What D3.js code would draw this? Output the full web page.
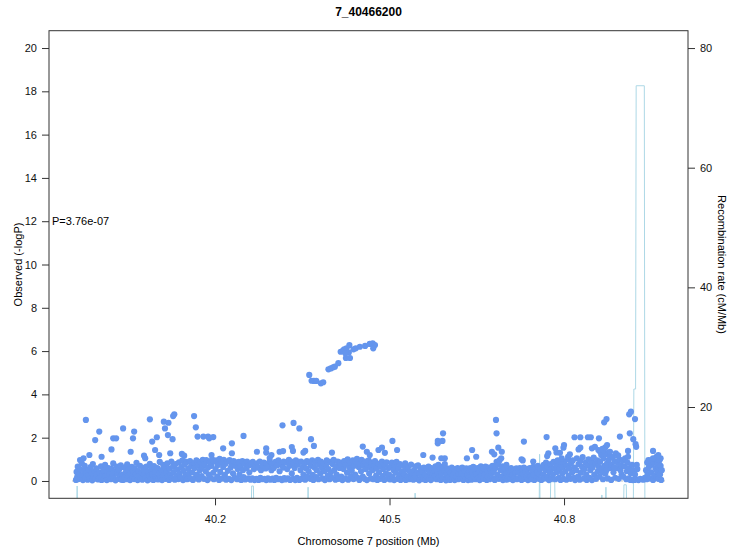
<!DOCTYPE html>
<html>
<head>
<meta charset="utf-8">
<script src="https://cdn.jsdelivr.net/npm/d3@7"></script>
<style>
  body { margin: 0; background: #fff; }
  svg { font-family: "Liberation Sans", Arial, sans-serif; }
</style>
</head>
<body>
<svg width="731" height="552"></svg>
<script>
// Chart text
const title = '7_40466200';
const pLabel = 'P=3.76e-07';

// Tick values
const xTicks = [40.2, 40.5, 40.8];
const yTicks = [0, 2, 4, 6, 8, 10, 12, 14, 16, 18, 20];
const recombTicks = [20, 40, 60, 80];

// SNPs as [position (Mb), -log10 P]
const bandLeft = [
  [39.961,0.05],[39.962,0.42],[39.963,0.18],[39.964,0.66],[39.965,0.09],[39.967,0.31],[39.968,0.55],[39.969,0.12],[39.971,0.82],[39.972,0.24],[39.973,0.04],[39.975,0.47],[39.976,0.7],[39.977,0.14],[39.979,0.36],
  [39.981,0.06],[39.982,0.52],[39.983,0.27],[39.985,0.1],[39.986,0.64],[39.987,0.38],[39.989,0.03],[39.990,0.78],[39.991,0.2],[39.993,0.45],[39.994,0.11],[39.996,0.58],[39.997,0.3],[39.999,0.07],
  [40.001,0.4],[40.002,0.13],[40.004,0.68],[40.005,0.05],[40.006,0.29],[40.008,0.5],[40.009,0.09],[40.011,0.74],[40.012,0.22],[40.014,0.04],[40.015,0.43],[40.017,0.6],[40.018,0.16],[40.019,0.33],
  [40.021,0.08],[40.022,0.56],[40.024,0.26],[40.025,0.81],[40.026,0.12],[40.028,0.44],[40.029,0.03],[40.031,0.67],[40.032,0.35],[40.034,0.1],[40.035,0.52],[40.037,0.2],[40.038,0.72],[40.039,0.06],
  [40.041,0.3],[40.042,0.05],[40.044,0.62],[40.045,0.18],[40.047,0.41],[40.048,0.08],[40.049,0.77],[40.051,0.25],[40.052,0.53],[40.054,0.04],[40.055,0.36],[40.057,0.65],[40.058,0.14],[40.059,0.47],
  [40.061,0.09],[40.062,0.58],[40.064,0.33],[40.065,0.84],[40.067,0.04],[40.068,0.46],[40.069,0.21],[40.071,0.7],[40.072,0.11],[40.074,0.39],[40.075,0.06],[40.077,0.61],[40.078,0.27],[40.079,0.5],
  [40.081,0.13],[40.082,0.66],[40.084,0.03],[40.085,0.42],[40.087,0.24],[40.088,0.79],[40.089,0.08],[40.091,0.55],[40.092,0.31],[40.094,0.05],[40.095,0.69],[40.097,0.19],[40.098,0.45],[40.099,0.1],
  [40.101,0.6],[40.102,0.07],[40.104,0.35],[40.105,0.88],[40.107,0.15],[40.108,0.5],[40.109,0.04],[40.111,0.74],[40.112,0.28],[40.114,0.62],[40.115,0.1],[40.117,0.43],[40.118,0.82],[40.119,0.2],
  [40.121,0.05],[40.122,0.57],[40.124,0.3],[40.125,0.9],[40.126,0.12],[40.128,0.68],[40.129,0.41],[40.131,0.06],[40.132,0.78],[40.134,0.22],[40.135,0.53],[40.137,0.09],[40.138,0.86],[40.139,0.36],
  [40.141,0.14],[40.142,0.64],[40.144,0.95],[40.145,0.04],[40.146,0.47],[40.148,0.75],[40.149,0.25],[40.151,0.88],[40.152,0.08],[40.154,0.56],[40.155,0.33],[40.157,0.92],[40.158,0.11],[40.159,0.7],
  [40.161,0.4],[40.162,0.05],[40.164,0.83],[40.165,0.6],[40.167,0.18],[40.168,0.95],[40.169,0.3],[40.171,0.72],[40.172,0.07],[40.174,0.5],[40.175,0.88],[40.177,0.22],[40.178,0.65],[40.179,0.98],
  [40.181,0.1],[40.182,0.78],[40.184,0.45],[40.185,0.97],[40.187,0.04],[40.188,0.62],[40.189,0.3],[40.191,0.85],[40.192,0.15],[40.194,0.7],[40.195,1.0],[40.197,0.38],[40.198,0.08],[40.199,0.9],
  [40.201,0.55],[40.202,0.95],[40.204,0.2],[40.205,0.74],[40.207,0.05],[40.208,1.02],[40.209,0.42],[40.211,0.86],[40.212,0.12],[40.214,0.65],[40.215,0.98],[40.217,0.28],[40.218,0.8],[40.219,0.06],
  [40.221,0.9],[40.222,0.47],[40.224,0.1],[40.225,0.96],[40.227,0.62],[40.228,0.04],[40.229,0.78],[40.231,0.35],[40.232,0.92],[40.234,0.15],[40.235,0.7],[40.237,0.85],[40.238,0.08],[40.239,0.55],
  [40.241,0.88],[40.242,0.3],[40.244,0.66],[40.245,0.05],[40.247,0.92],[40.248,0.5],[40.249,0.18],[40.251,0.8],[40.252,0.07],[40.254,0.6],[40.255,0.9],[40.257,0.12],[40.258,0.72],[40.259,0.4],
  [40.261,0.06],[40.262,0.75],[40.264,0.12],[40.265,0.88],[40.267,0.55],[40.268,0.04],[40.269,0.68],[40.271,0.1],[40.272,0.82],[40.274,0.62],[40.275,0.05],[40.277,0.9],[40.278,0.14],[40.279,0.5],
  [40.281,0.08],[40.282,0.7],[40.284,0.85],[40.285,0.1],[40.287,0.58],[40.288,0.04],[40.289,0.78],[40.291,0.12],[40.292,0.65],[40.294,0.92],[40.295,0.06],[40.297,0.5],[40.298,0.8],[40.299,0.11]
];

const bandMiddle = [
  [40.301,0.6],[40.302,0.05],[40.304,0.88],[40.305,0.15],[40.307,0.72],[40.308,0.08],[40.309,0.95],[40.311,0.45],[40.312,0.1],[40.314,0.78],[40.315,0.04],[40.317,0.62],[40.318,0.9],[40.319,0.13],
  [40.321,0.07],[40.322,0.85],[40.324,0.55],[40.325,0.12],[40.327,0.98],[40.328,0.7],[40.329,0.05],[40.331,0.9],[40.332,0.35],[40.334,0.1],[40.335,0.8],[40.337,0.6],[40.338,0.04],[40.339,0.95],
  [40.341,0.14],[40.342,0.75],[40.344,0.88],[40.345,0.05],[40.347,0.5],[40.348,0.9],[40.349,0.1],[40.351,0.65],[40.352,0.3],[40.354,0.82],[40.355,0.06],[40.357,0.58],[40.358,0.92],[40.359,0.2],
  [40.361,0.45],[40.362,0.85],[40.364,0.1],[40.365,0.7],[40.367,0.95],[40.368,0.28],[40.369,0.05],[40.371,0.62],[40.372,0.88],[40.374,0.18],[40.375,0.5],[40.377,0.98],[40.378,0.08],[40.379,0.75],
  [40.381,0.35],[40.382,0.9],[40.384,0.6],[40.385,0.12],[40.387,0.82],[40.388,0.45],[40.389,0.04],[40.391,0.7],[40.392,0.95],[40.394,0.25],[40.395,0.55],[40.397,0.08],[40.398,0.88],[40.399,0.4],
  [40.401,0.15],[40.402,0.78],[40.404,0.98],[40.405,0.5],[40.407,0.06],[40.408,0.68],[40.409,0.3],[40.411,0.9],[40.412,0.1],[40.414,0.6],[40.415,0.85],[40.417,0.2],[40.418,0.72],[40.419,0.04],
  [40.421,0.55],[40.422,0.92],[40.424,0.12],[40.425,0.75],[40.427,0.38],[40.428,1.0],[40.429,0.06],[40.431,0.62],[40.432,0.85],[40.434,0.22],[40.435,0.48],[40.437,0.95],[40.438,0.09],[40.439,0.7],
  [40.441,0.3],[40.442,0.88],[40.444,1.02],[40.445,0.15],[40.447,0.65],[40.448,0.05],[40.449,0.8],[40.451,0.45],[40.452,0.98],[40.454,0.2],[40.455,0.7],[40.457,0.1],[40.458,0.9],[40.459,0.55],
  [40.461,0.04],[40.462,0.75],[40.464,0.95],[40.465,0.35],[40.467,0.62],[40.468,0.12],[40.469,0.85],[40.471,0.5],[40.472,0.08],[40.474,0.7],[40.475,0.92],[40.477,0.25],[40.478,0.58],[40.479,0.05],
  [40.481,0.8],[40.482,0.4],[40.484,0.1],[40.485,0.68],[40.487,0.9],[40.488,0.22],[40.489,0.55],[40.491,0.05],[40.492,0.75],[40.494,0.35],[40.495,0.86],[40.497,0.12],[40.498,0.6],[40.499,0.3],
  [40.501,0.07],[40.502,0.65],[40.504,0.85],[40.505,0.2],[40.507,0.5],[40.508,0.04],[40.509,0.72],[40.511,0.38],[40.512,0.88],[40.514,0.1],[40.515,0.58],[40.517,0.27],[40.518,0.78],[40.519,0.05],
  [40.521,0.45],[40.522,0.12],[40.524,0.7],[40.525,0.32],[40.527,0.82],[40.528,0.05],[40.529,0.55],[40.531,0.2],[40.532,0.65],[40.534,0.08],[40.535,0.42],[40.537,0.76],[40.538,0.15],[40.539,0.35],
  [40.541,0.06],[40.542,0.5],[40.544,0.25],[40.545,0.68],[40.547,0.1],[40.548,0.4],[40.549,0.72],[40.551,0.03],[40.552,0.33],[40.554,0.58],[40.555,0.15],[40.557,0.45],[40.558,0.08],[40.559,0.62],
  [40.561,0.28],[40.562,0.05],[40.564,0.55],[40.565,0.18],[40.567,0.66],[40.568,0.1],[40.569,0.4],[40.571,0.04],[40.572,0.6],[40.574,0.3],[40.575,0.12],[40.577,0.5],[40.578,0.22],[40.579,0.68],
  [40.581,0.08],[40.582,0.45],[40.584,0.75],[40.585,0.2],[40.587,0.55],[40.588,0.05],[40.589,0.35],[40.591,0.65],[40.592,0.12],[40.594,0.48],[40.595,0.78],[40.597,0.03],[40.598,0.3],[40.599,0.58],
  [40.601,0.15],[40.602,0.5],[40.604,0.05],[40.605,0.38],[40.607,0.62],[40.608,0.1],[40.609,0.28],[40.611,0.55],[40.612,0.04],[40.614,0.42],[40.615,0.2],[40.617,0.6],[40.618,0.08],[40.619,0.33],
  [40.621,0.52],[40.622,0.12],[40.624,0.35],[40.625,0.62],[40.627,0.05],[40.628,0.25],[40.629,0.48],[40.631,0.1],[40.632,0.58],[40.634,0.3],[40.635,0.04],[40.637,0.45],[40.638,0.18],[40.639,0.6]
];

const bandRight = [
  [40.641,0.06],[40.642,0.4],[40.644,0.65],[40.645,0.2],[40.647,0.52],[40.648,0.08],[40.649,0.32],[40.651,0.6],[40.652,0.13],[40.654,0.45],[40.655,0.04],[40.657,0.68],[40.658,0.27],[40.659,0.5],
  [40.661,0.1],[40.662,0.55],[40.664,0.3],[40.665,0.66],[40.667,0.05],[40.668,0.42],[40.669,0.2],[40.671,0.62],[40.672,0.08],[40.674,0.5],[40.675,0.35],[40.677,0.7],[40.678,0.12],[40.679,0.45],
  [40.681,0.05],[40.682,0.6],[40.684,0.88],[40.685,0.3],[40.687,0.75],[40.688,0.1],[40.689,0.95],[40.691,0.5],[40.692,0.2],[40.694,0.68],[40.695,0.04],[40.697,0.42],[40.698,0.58],[40.699,0.15],
  [40.701,0.35],[40.702,0.06],[40.704,0.55],[40.705,0.2],[40.707,0.45],[40.708,0.1],[40.709,0.6],[40.711,0.28],[40.712,0.04],[40.714,0.5],[40.715,0.15],[40.717,0.38],[40.718,0.58],[40.719,0.08],
  [40.721,0.42],[40.722,0.12],[40.724,0.6],[40.725,0.25],[40.727,0.05],[40.728,0.5],[40.729,0.32],[40.731,0.62],[40.732,0.1],[40.734,0.45],[40.735,0.18],[40.737,0.55],[40.738,0.04],[40.739,0.3],
  [40.741,0.6],[40.742,0.2],[40.744,0.08],[40.745,0.48],[40.747,0.65],[40.748,0.3],[40.749,0.05],[40.751,0.55],[40.752,0.15],[40.754,0.4],[40.755,0.7],[40.757,0.1],[40.758,0.35],[40.759,0.58],
  [40.761,0.05],[40.762,0.62],[40.764,0.3],[40.765,0.75],[40.767,0.12],[40.768,0.5],[40.769,0.85],[40.771,0.2],[40.772,0.65],[40.774,0.04],[40.775,0.4],[40.777,0.78],[40.778,0.1],[40.779,0.55],
  [40.781,0.3],[40.782,0.88],[40.784,0.6],[40.785,0.08],[40.787,0.72],[40.788,0.42],[40.789,0.95],[40.791,0.15],[40.792,0.55],[40.794,0.05],[40.795,0.8],[40.797,0.35],[40.798,0.65],[40.799,0.1],
  [40.801,0.9],[40.802,0.45],[40.804,0.06],[40.805,0.7],[40.807,1.0],[40.808,0.25],[40.809,0.58],[40.811,0.1],[40.812,0.82],[40.814,0.4],[40.815,0.95],[40.817,0.15],[40.818,0.62],[40.819,0.04],
  [40.821,0.5],[40.822,1.05],[40.824,0.2],[40.825,0.78],[40.827,0.06],[40.828,0.92],[40.829,0.38],[40.831,0.65],[40.832,1.1],[40.834,0.12],[40.835,0.55],[40.837,0.85],[40.838,0.3],[40.839,0.05],
  [40.841,0.72],[40.842,1.0],[40.844,0.15],[40.845,0.5],[40.847,0.88],[40.848,0.04],[40.849,0.62],[40.851,1.08],[40.852,0.3],[40.854,0.8],[40.855,0.1],[40.857,0.95],[40.858,0.45],[40.859,0.68],
  [40.861,0.2],[40.862,0.9],[40.864,1.2],[40.865,0.55],[40.867,0.08],[40.868,1.05],[40.869,0.7],[40.871,0.35],[40.872,1.25],[40.874,0.82],[40.875,0.12],[40.877,0.98],[40.878,0.6],[40.879,1.15],[40.866,0.4],[40.873,0.5],
  [40.881,0.05],[40.882,0.75],[40.884,1.1],[40.885,0.4],[40.887,0.9],[40.888,0.15],[40.889,1.28],[40.891,0.6],[40.892,0.85],[40.894,0.1],[40.895,1.0],[40.897,0.5],[40.898,0.72],[40.899,0.3],[40.886,0.62],[40.893,1.18],
  [40.901,0.95],[40.902,0.2],[40.904,0.68],[40.905,1.05],[40.907,0.08],[40.908,0.45],[40.909,0.85],[40.911,0.12],[40.912,0.6],[40.914,0.05],[40.915,0.35],[40.917,0.75],[40.918,0.04],[40.919,0.5],
  [40.921,0.05],[40.922,0.3],[40.924,0.08],[40.926,0.55],[40.928,0.04],[40.931,0.1],[40.936,0.06],[40.939,0.15],
  [40.941,0.5],[40.942,0.08],[40.943,0.85],[40.944,0.3],[40.946,0.65],[40.947,0.12],[40.948,0.95],[40.950,0.4],[40.951,0.75],[40.953,0.05],[40.954,0.88],[40.955,0.25],[40.957,0.6],[40.958,1.02],[40.959,0.15],
  [40.960,0.45],[40.961,0.8],[40.962,0.1],[40.963,0.62],[40.964,0.95],[40.965,0.3],[40.966,0.7],[40.967,0.05],[40.968,0.5],[40.966,1.05]
];

// Scattered SNPs above the main band
const scatterHigh = [
  [39.968,0.97],[39.974,1.05],[39.978,2.82],[39.984,1.2],[39.994,1.89],[40.001,2.28],[40.005,1.12],[40.022,1.46],[40.025,1.97],[40.030,1.97],
  [40.042,2.43],[40.055,1.35],[40.059,1.97],[40.061,2.28],[40.078,1.17],[40.080,1.05],[40.088,2.85],[40.092,1.82],[40.097,1.43],[40.100,2.02],
  [40.104,1.2],[40.112,2.74],[40.114,2.43],[40.119,2.12],[40.120,2.69],[40.123,1.28],[40.127,1.93],[40.128,3.0],[40.130,3.08],[40.143,1.25],
  [40.147,1.17],[40.164,3.0],[40.167,2.48],[40.170,2.05],[40.180,2.05],[40.188,2.05],[40.190,1.97],[40.197,2.03],[40.194,1.2],[40.214,1.51],
  [40.229,1.74],[40.229,1.28],[40.249,2.08],[40.272,1.35],[40.288,1.51],[40.288,1.31],[40.294,1.06],[40.297,1.2],[40.311,1.35],[40.317,1.38],
  [40.316,2.57],[40.335,2.68],[40.345,2.43],[40.332,1.57],[40.334,1.39],[40.352,1.31],[40.355,1.39],[40.365,1.93],[40.370,1.62],[40.401,1.31],
  [40.454,1.59],[40.461,1.35],[40.466,1.2],[40.481,1.43],[40.487,1.54],[40.492,1.3],[40.505,1.85],[40.513,1.43],[40.558,1.2],[40.574,1.08],
  [40.583,1.74],[40.583,1.85],[40.591,1.85],[40.592,2.2],[40.595,1.05],[40.589,1.05],[40.633,1.05],[40.642,1.43],[40.649,1.12],[40.676,1.35],
  [40.680,1.23],[40.683,2.82],[40.684,2.2],[40.687,1.54],[40.692,1.05],[40.693,1.35],[40.701,0.74],[40.727,1.0],[40.729,0.95],[40.731,1.82],
  [40.747,0.9],[40.770,2.03],[40.771,1.15],[40.773,1.28],[40.785,1.51],[40.787,1.32],[40.793,1.3],[40.796,1.05],[40.799,1.54],[40.800,1.66],
  [40.807,1.12],[40.810,1.23],[40.818,2.02],[40.825,1.46],[40.828,1.54],[40.828,2.02],[40.841,2.02],[40.846,2.02],[40.848,1.51],[40.853,1.58],
  [40.859,1.43],[40.860,1.97],[40.862,1.35],[40.866,1.48],[40.868,1.4],[40.871,1.55],[40.876,1.3],[40.879,1.35],[40.869,2.71],[40.873,2.86],
  [40.874,1.66],[40.896,2.05],[40.910,1.39],[40.910,1.12],[40.912,3.08],[40.915,3.2],[40.913,2.2],[40.919,1.93],[40.923,1.7],[40.924,1.58],
  [40.922,2.86],[40.925,0.74],[40.953,1.39],[40.962,1.2],[40.959,1.12],[40.953,1.05],[40.945,0.97]
];

// The associated block around the index SNP
const peakSnps = [
  [40.362,4.9],[40.366,4.63],[40.370,4.62],[40.374,4.62],[40.382,4.51],[40.386,4.56],[40.395,5.16],[40.399,5.2],[40.403,5.25],[40.406,5.28],
  [40.412,5.44],[40.416,5.97],[40.420,6.02],[40.422,6.08],[40.425,5.68],[40.426,6.13],[40.431,6.28],[40.432,5.68],[40.430,5.93],[40.424,5.9],
  [40.438,6.08],[40.442,6.13],[40.449,6.2],[40.458,6.24],[40.466,6.33],[40.471,6.36],[40.475,6.28],[40.472,6.13]
];

// Recombination rate (cM/Mb) along the region
const recombPos  = [39.950, 39.962, 39.963, 39.964, 40.262, 40.263, 40.266, 40.267, 40.359, 40.360, 40.361, 40.543, 40.544, 40.545,
                    40.757, 40.758, 40.759, 40.776, 40.777, 40.784, 40.785, 40.864, 40.865, 40.866, 40.871, 40.872, 40.873,
                    40.902, 40.903, 40.907, 40.908, 40.919, 40.920, 40.923, 40.924, 40.938, 40.939, 40.980];
const recombRate = [0.5, 0.5, 6.8, 0.5, 0.5, 6.8, 6.8, 0.5, 0.5, 6.6, 0.5, 0.5, 5.6, 0.5,
                    0.5, 12.1, 0.5, 0.5, 7.5, 7.5, 0.5, 0.5, 5.3, 0.5, 0.5, 6.6, 0.5,
                    0.5, 7.0, 7.0, 0.5, 0.5, 23.0, 23.0, 73.7, 73.7, 0.5, 0.5];

const baselineRange = [39.955, 40.975];

const snps = bandLeft.concat(bandMiddle, bandRight, scatterHigh, peakSnps);

// Select the SVG element and set up the plot box
const svg = d3.select('svg');
const box = { left: 49, right: 688, top: 30.7, bottom: 498.3 };
const axisColor = '#333';

const x = d3.scaleLinear().domain([39.9146, 41.0131]).range([box.left, box.right]);
const y = d3.scaleLinear().domain([-0.8, 20.8]).range([box.bottom, box.top]);
const yRecomb = d3.scaleLinear().domain([4.74, 82.9]).range([box.bottom, box.top]);

svg.append('clipPath').attr('id', 'plot-clip')
  .append('rect')
  .attr('x', box.left).attr('y', box.top)
  .attr('width', box.right - box.left).attr('height', box.bottom - box.top);

const plot = svg.append('g').attr('clip-path', 'url(#plot-clip)');

// Recombination rate line
const recombLine = d3.line()
  .x(d => x(d[0]))
  .y(d => yRecomb(d[1]));

plot.append('path')
  .datum(recombPos.map((p, i) => [p, recombRate[i]]))
  .attr('d', recombLine)
  .attr('fill', 'none')
  .attr('stroke', '#add8e6')
  .attr('stroke-width', 1);

// Dotted line at -logP = 0
plot.append('line')
  .attr('x1', x(baselineRange[0])).attr('x2', x(baselineRange[1]))
  .attr('y1', y(0)).attr('y2', y(0))
  .attr('stroke', '#888')
  .attr('stroke-dasharray', '1,2');

// SNP points
plot.selectAll('circle')
  .data(snps)
  .enter()
  .append('circle')
  .attr('cx', d => x(d[0]))
  .attr('cy', d => y(d[1]))
  .attr('r', 3.1)
  .attr('fill', '#6495ed');

// Axes
const xAxis = svg.append('g')
  .attr('transform', `translate(0, ${box.bottom})`)
  .call(d3.axisBottom(x).tickValues(xTicks).tickFormat(d3.format('.1f')).tickSize(7).tickPadding(10));

const yAxis = svg.append('g')
  .attr('transform', `translate(${box.left}, 0)`)
  .call(d3.axisLeft(y).tickValues(yTicks).tickSize(7).tickPadding(5));

const rAxis = svg.append('g')
  .attr('transform', `translate(${box.right}, 0)`)
  .call(d3.axisRight(yRecomb).tickValues(recombTicks).tickSize(7).tickPadding(5));

[xAxis, yAxis, rAxis].forEach(g => {
  g.select('.domain').remove();
  g.selectAll('line').attr('stroke', axisColor);
  g.selectAll('text')
    .attr('fill', '#111')
    .style('font-family', '"Liberation Sans", Arial, sans-serif')
    .style('font-size', '11px');
});

// Plot box
svg.append('rect')
  .attr('x', box.left).attr('y', box.top)
  .attr('width', box.right - box.left).attr('height', box.bottom - box.top)
  .attr('fill', 'none')
  .attr('stroke', axisColor)
  .attr('stroke-width', 1);

// Titles and labels
svg.append('text')
  .attr('x', (box.left + box.right) / 2).attr('y', 16)
  .attr('text-anchor', 'middle')
  .style('font-size', '12px').style('font-weight', 'bold')
  .text(title);

svg.append('text')
  .attr('x', (box.left + box.right) / 2).attr('y', 545)
  .attr('text-anchor', 'middle')
  .style('font-size', '11px')
  .text('Chromosome 7 position (Mb)');

svg.append('text')
  .attr('transform', `translate(22, ${(box.top + box.bottom) / 2}) rotate(-90)`)
  .attr('text-anchor', 'middle')
  .style('font-size', '11px')
  .text('Observed (-logP)');

svg.append('text')
  .attr('transform', `translate(718, ${(box.top + box.bottom) / 2}) rotate(90)`)
  .attr('text-anchor', 'middle')
  .style('font-size', '11px')
  .text('Recombination rate (cM/Mb)');

svg.append('text')
  .attr('x', box.left + 3).attr('y', y(12))
  .attr('dy', '0.35em')
  .style('font-size', '11px')
  .text(pLabel);
</script>
</body>
</html>
